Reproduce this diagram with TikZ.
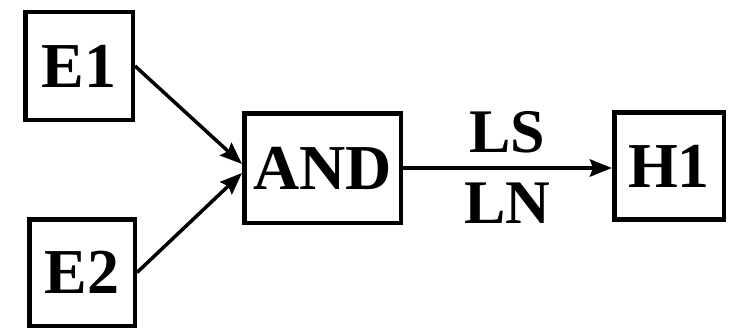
\documentclass[tikz,border=0pt]{standalone}
\usepackage{fontspec}
\setmainfont{Liberation Serif}
\usetikzlibrary{arrows.meta}

\begin{document}
\begin{tikzpicture}[x=1pt, y=-1pt,
    box/.style={draw, line width=4.5pt, inner sep=0pt,
                font=\fontsize{64}{64}\selectfont\bfseries},
    link/.style={line width=3.5pt, -{Stealth[length=22pt, width=17pt, inset=3pt]}},
    tag/.style={inner sep=0pt, font=\fontsize{62}{62}\selectfont\bfseries}]
  % evidence boxes on the left, the AND node, the hypothesis on the right
  \useasboundingbox (0,0) rectangle (733,329);
  \node[box, minimum width=107.5pt, minimum height=107.5pt] (e1) at (79,66) {E1};
  \node[box, minimum width=105.5pt, minimum height=106.5pt] (e2) at (82,272.5) {E2};
  \node[box, minimum width=156.5pt, minimum height=109.5pt] (and) at (322.5,168) {AND};
  \node[box, minimum width=109.5pt, minimum height=107pt] (h1) at (669,166) {H1};

  \draw[link] (e1.east) -- ([yshift=4pt]and.west);
  \draw[link] (e2.east) -- ([yshift=-5pt]and.west);
  \draw[link, line width=4pt] (and.east) -- (and.east -| h1.west)
    node[tag, midway, above=13pt] (ls) {LS}
    node[tag, midway, below=13pt] (ln) {LN};
\end{tikzpicture}
\end{document}
